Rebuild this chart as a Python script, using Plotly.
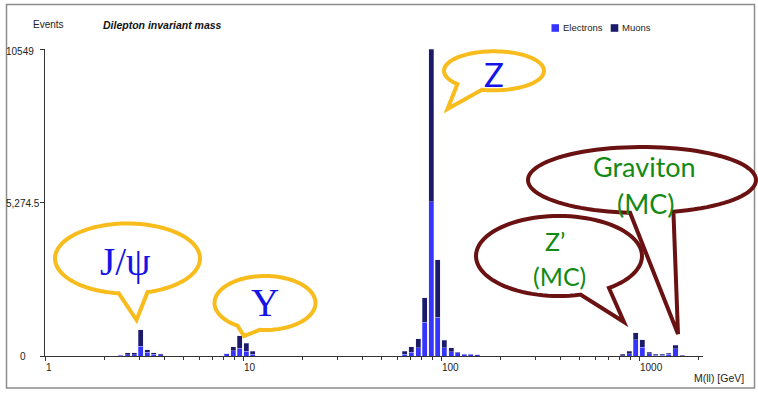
import math
import plotly.graph_objects as go

# ---------------- data ----------------
BINS_PER_DECADE = 30  # log-spaced mass bins
bin_index = [11, 12, 13, 14, 15, 16, 17,
             27, 28, 29, 30, 31,
             54, 55, 56, 57, 58, 59, 60, 61, 62, 63, 64, 65,
             87, 88, 89, 90, 91, 92, 93, 94, 95, 96]
electrons = [30, 45, 45, 330, 130, 55, 45,
             70, 180, 275, 155, 55,
             62, 122, 290, 1160, 5300, 1335, 290, 140, 110, 62, 62, 35,
             15, 80, 560, 300, 85, 32, 30, 55, 255, 5]
muons = [5, 70, 70, 575, 90, 55, 30,
         10, 130, 425, 280, 105,
         93, 188, 300, 845, 5249, 1975, 255, 145, 25, 8, 8, 0,
         42, 80, 240, 260, 48, 35, 35, 45, 110, 20]
x_tick_vals = [1, 10, 100, 1000]
x_tick_text = ["1", "10", "100", "1000"]
x_minor_vals = [2, 3, 4, 5, 6, 7, 8, 9, 20, 30, 40, 50, 60, 70, 80, 90,
                200, 300, 400, 500, 600, 700, 800, 900, 2000]
x_max_gev = 2100
y_tick_vals = [0, 5274.5, 10549]
y_tick_text = ["0", "5,274.5", "10549"]

# ---------------- layout geometry (pixels) ----------------
W, H = 758, 393
PL, PR, PT, PB = 45, 703, 49, 356


def px(x):
    return (x - PL) / (PR - PL)


def py(y):
    return (PB - y) / (PB - PT)


centers = [math.log10(10 ** ((k + 0.5) / BINS_PER_DECADE)) for k in bin_index]

E_COL = "#3535FF"
M_COL = "#1B1B6A"
LINE = "rgba(215,215,250,0.55)"

fig = go.Figure()
fig.add_trace(go.Bar(x=centers, y=electrons, name="Electrons",
                     marker=dict(color=E_COL, line=dict(color=LINE, width=0.6))))
fig.add_trace(go.Bar(x=centers, y=muons, name="Muons",
                     marker=dict(color=M_COL, line=dict(color=LINE, width=0.6))))

AX = "#333333"
fig.update_layout(
    width=W, height=H,
    margin=dict(l=PL, r=W - PR, t=PT, b=H - PB, pad=0),
    barmode="stack", bargap=0.24,
    showlegend=False,
    paper_bgcolor="white", plot_bgcolor="white",
    font=dict(family="Liberation Sans", size=10, color="#222"),
    xaxis=dict(range=[0, math.log10(x_max_gev)], showline=True, linecolor=AX,
               linewidth=1, ticks="outside", ticklen=4, tickcolor=AX,
               tickvals=[math.log10(v) for v in x_tick_vals],
               showticklabels=False, showgrid=False, zeroline=False,
               minor=dict(tickvals=[math.log10(v) for v in x_minor_vals],
                          ticks="outside", ticklen=3, tickcolor=AX,
                          showgrid=False)),
    yaxis=dict(range=[0, 10549], showline=True, linecolor=AX, linewidth=1,
               ticks="outside", ticklen=4, tickcolor=AX,
               tickvals=y_tick_vals, showticklabels=False,
               showgrid=False, zeroline=False),
)

ann = []
# x tick labels (left aligned at tick)
for v, t in zip(x_tick_vals, x_tick_text):
    ann.append(dict(x=math.log10(v), xref="x", y=py(367), yref="paper",
                    text=t, showarrow=False, xanchor="left", yanchor="middle",
                    xshift=-1, font=dict(size=10, color="#222")))
# y tick labels
y_label_right = [28, 41.7, 35.5]
y_label_dy = [0, 1, 2.5]
for v, t, r, dy in zip(y_tick_vals, y_tick_text, y_label_right, y_label_dy):
    ann.append(dict(x=px(r), xref="paper", y=v, yref="y", text=t,
                    showarrow=False, xanchor="right", yanchor="middle",
                    yshift=-dy, font=dict(size=10, color="#222")))

# titles
ann.append(dict(x=px(31), y=py(25), xref="paper", yref="paper", text="Events",
                showarrow=False, xanchor="left", yanchor="middle",
                font=dict(size=10, color="#222")))
ann.append(dict(x=px(100.5), y=py(25), xref="paper", yref="paper",
                text="<b><i>Dilepton invariant mass</i></b>",
                showarrow=False, xanchor="left", yanchor="middle",
                font=dict(size=10.5, color="#111")))
ann.append(dict(x=px(746), y=py(378), xref="paper", yref="paper",
                text="M(ll) [GeV]", showarrow=False, xanchor="right",
                yanchor="middle", font=dict(size=10.5, color="#222")))
# legend texts
ann.append(dict(x=px(560.5), y=py(28), xref="paper", yref="paper",
                text="Electrons", showarrow=False, xanchor="left",
                yanchor="middle", font=dict(size=9.5, color="#222")))
ann.append(dict(x=px(619.5), y=py(28), xref="paper", yref="paper",
                text="Muons", showarrow=False, xanchor="left",
                yanchor="middle", font=dict(size=9.5, color="#222")))

shapes = []
# outer frame
shapes.append(dict(type="rect", xref="paper", yref="paper",
                   x0=px(6.5), x1=px(754.5), y0=py(388), y1=py(4.5),
                   line=dict(color="#8c8c8c", width=1.5), layer="below"))
# legend squares
shapes.append(dict(type="rect", xref="paper", yref="paper",
                   x0=px(551.5), x1=px(559), y0=py(31.8), y1=py(24.2),
                   fillcolor=E_COL, line=dict(width=0)))
shapes.append(dict(type="rect", xref="paper", yref="paper",
                   x0=px(610.7), x1=px(618.3), y0=py(31.8), y1=py(24.2),
                   fillcolor=M_COL, line=dict(width=0)))


def bubble(cx, cy, rx, ry, gap_a, gap_b, tip, color, n=90):
    pts = []
    start, end = gap_b, gap_a + 360
    for i in range(n + 1):
        t = math.radians(start + (end - start) * i / n)
        pts.append((cx + rx * math.cos(t), cy + ry * math.sin(t)))
    pts.append(tip)
    path = "M " + " L ".join(f"{px(x):.5f},{py(y):.5f}" for x, y in pts) + " Z"
    return dict(type="path", xref="paper", yref="paper", path=path,
                fillcolor="white", line=dict(color=color, width=4),
                layer="above")


GOLD = "#F8BC1C"
MAROON = "#6A1212"
shapes.append(bubble(127.5, 258.5, 72.5, 35, 74, 97, (136.5, 320), GOLD))
shapes.append(bubble(265, 303, 50.5, 27, 96, 123, (244, 336), GOLD))
shapes.append(bubble(494, 70.8, 50, 19.5, 104, 137, (447.5, 109), GOLD))
shapes.append(bubble(559, 256, 83, 40, 53, 75, (624, 322), MAROON))
shapes.append(bubble(642, 180, 114, 33, 74, 96, (678, 334), MAROON))

BLUE = "#1414E6"
GREEN = "#138A13"


def label(x, y, text, size, color, family):
    return dict(x=px(x), y=py(y), xref="paper", yref="paper", text=text,
                showarrow=False, xanchor="center", yanchor="middle",
                font=dict(size=size, color=color, family=family))


ann.append(label(125, 262, "J/ψ", 39, BLUE, "Liberation Serif"))
ann.append(label(265, 302, "Υ", 39, BLUE, "Liberation Serif"))
ann.append(label(493.5, 74, "Z", 33, BLUE, "Lato"))
ann.append(label(555, 241, "Z’", 25, GREEN, "Lato"))
ann.append(label(559, 276, "(MC)", 25, GREEN, "Lato"))
ann.append(label(644, 166, "Graviton", 27, GREEN, "Lato"))
ann.append(label(645.5, 203, "(MC)", 27, GREEN, "Lato"))

fig.update_layout(annotations=ann, shapes=shapes)
fig.write_html("out.html",
               config={"displayModeBar": False},
               post_script="document.body.style.margin='0';"
                           "document.body.style.overflow='hidden';")
